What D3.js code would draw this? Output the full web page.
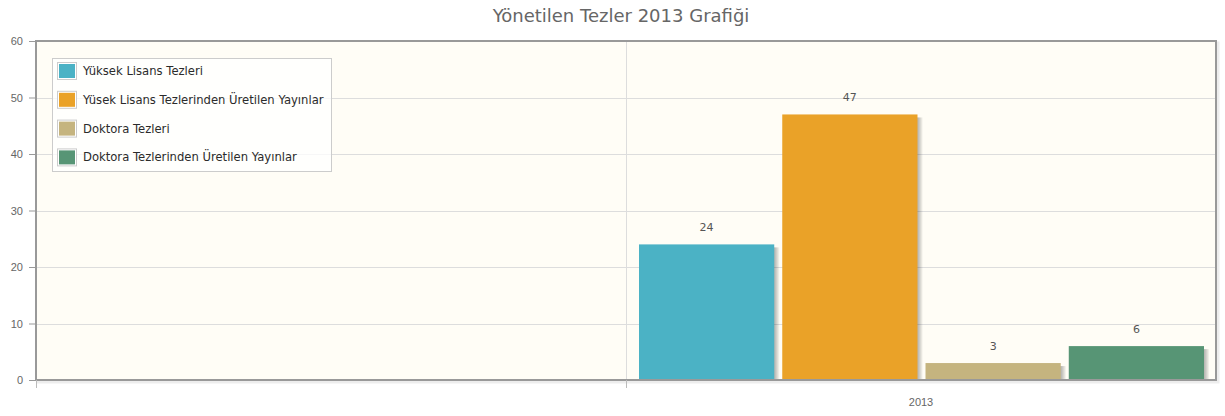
<!DOCTYPE html>
<html>
<head>
<meta charset="utf-8">
<script src="https://cdn.jsdelivr.net/npm/d3@7"></script>
<style>
  body { margin: 0; background: #fff; }
  svg { display: block; font-family: "DejaVu Sans", Verdana, sans-serif; }
  .tick text { fill: #666; font-size: 11px; }
  .tick line { stroke: #999; }
  .grid line { stroke: #ddd; stroke-width: 1; }
  .legend text { fill: #2b2b2b; font-size: 11.6px; }
  .value { fill: #555; font-size: 11px; }
  .title { fill: #666; font-size: 18px; }
</style>
</head>
<body>
<svg id="chart" width="1225" height="416"></svg>
<script>
// Yönetilen Tezler 2013
const xTicks = ["", "2013"];
const seriesNames = [
  "Yüksek Lisans Tezleri",
  "Yüsek Lisans Tezlerinden Üretilen Yayınlar",
  "Doktora Tezleri",
  "Doktora Tezlerinden Üretilen Yayınlar"
];
const values = [24, 47, 3, 6];
const yTicks = [0, 10, 20, 30, 40, 50, 60];
const colors = ["#4bb2c5", "#eaa228", "#c5b47f", "#579575"];

const svg = d3.select("#chart");

const plotLeft = 36, plotRight = 1216, plotTop = 41, plotBottom = 380;

const yScale = d3.scaleLinear().domain([0, 60]).range([plotBottom, plotTop]);
const xScale = d3.scaleBand().domain(xTicks).range([plotLeft, plotRight]);
const inner = d3
  .scaleBand()
  .domain(seriesNames)
  .range([13, xScale.bandwidth() - 12])
  .paddingInner(0.056);

// frame shadow
svg
  .append("rect")
  .attr("x", plotLeft + 2)
  .attr("y", plotTop + 2)
  .attr("width", plotRight - plotLeft)
  .attr("height", plotBottom - plotTop)
  .attr("fill", "none")
  .attr("stroke", "rgba(0,0,0,0.07)")
  .attr("stroke-width", 3);

svg
  .append("rect")
  .attr("x", plotLeft)
  .attr("y", plotTop)
  .attr("width", plotRight - plotLeft)
  .attr("height", plotBottom - plotTop)
  .attr("fill", "#fffdf6");

// grid
const grid = svg.append("g").attr("class", "grid");
grid
  .selectAll("line.h")
  .data(yTicks.slice(1, -1))
  .enter()
  .append("line")
  .attr("x1", plotLeft)
  .attr("x2", plotRight)
  .attr("y1", (d) => Math.round(yScale(d)) + 0.5)
  .attr("y2", (d) => Math.round(yScale(d)) + 0.5);

grid
  .selectAll("line.v")
  .data(xTicks.slice(1))
  .enter()
  .append("line")
  .attr("x1", (d) => Math.round(xScale(d)) + 0.5)
  .attr("x2", (d) => Math.round(xScale(d)) + 0.5)
  .attr("y1", plotTop)
  .attr("y2", plotBottom);

// bars
const barGroups = svg
  .selectAll()
  .data(values)
  .enter()
  .append("g")
  .attr("transform", `translate(${xScale("2013")}, 0)`);

[5, 4, 3, 2, 1].forEach((o) => {
  barGroups
    .append("rect")
    .attr("x", (d, i) => inner(seriesNames[i]) + o)
    .attr("y", (d) => yScale(d) + 3)
    .attr("width", inner.bandwidth())
    .attr("height", (d) => plotBottom - yScale(d) - 3)
    .attr("fill", "rgba(0,0,0,0.06)");
});

barGroups
  .append("rect")
  .attr("x", (d, i) => inner(seriesNames[i]))
  .attr("y", (d) => yScale(d))
  .attr("width", inner.bandwidth())
  .attr("height", (d) => plotBottom - yScale(d))
  .attr("fill", (d, i) => colors[i]);

barGroups
  .append("text")
  .attr("class", "value")
  .attr("x", (d, i) => inner(seriesNames[i]) + inner.bandwidth() / 2)
  .attr("y", (d) => yScale(d) - 13)
  .attr("text-anchor", "middle")
  .text((d) => d);

// border
svg
  .append("path")
  .attr("d", `M${plotLeft},${plotTop}H${plotRight}V${plotBottom}H${plotLeft}Z`)
  .attr("fill", "none")
  .attr("stroke", "#999")
  .attr("stroke-width", 2);

// axes
const yAxis = svg
  .append("g")
  .attr("transform", `translate(${plotLeft}, 0)`)
  .call(d3.axisLeft(yScale).tickValues(yTicks).tickSize(7).tickPadding(6));
yAxis.select(".domain").remove();

const xAxis = svg
  .append("g")
  .attr("transform", `translate(0, ${plotBottom})`)
  .call(d3.axisBottom(xScale).tickSize(0).tickPadding(18));
xAxis.select(".domain").remove();

svg
  .append("g")
  .selectAll("line")
  .data(xTicks)
  .enter()
  .append("line")
  .attr("x1", (d) => Math.round(xScale(d)) + 0.5)
  .attr("x2", (d) => Math.round(xScale(d)) + 0.5)
  .attr("y1", plotBottom)
  .attr("y2", plotBottom + 8)
  .attr("stroke", "#bbb");

// legend
const legend = svg
  .append("g")
  .attr("class", "legend")
  .attr("transform", "translate(52, 58)");

legend
  .append("rect")
  .attr("x", 0.5)
  .attr("y", 0.5)
  .attr("width", 279)
  .attr("height", 113)
  .attr("fill", "rgba(255,255,255,0.75)")
  .attr("stroke", "#ccc");

const items = legend
  .selectAll("g")
  .data(seriesNames)
  .enter()
  .append("g")
  .attr("transform", (d, i) => `translate(5, ${4 + i * 28.8})`);

items
  .append("rect")
  .attr("x", 0.5)
  .attr("y", 0.5)
  .attr("width", 19)
  .attr("height", 17)
  .attr("fill", "#fff")
  .attr("stroke", "#ccc");

items
  .append("rect")
  .attr("x", 2)
  .attr("y", 2)
  .attr("width", 16)
  .attr("height", 14)
  .attr("fill", (d, i) => colors[i]);

items
  .append("text")
  .attr("x", 26)
  .attr("y", 13)
  .text((d) => d);

svg
  .append("text")
  .attr("class", "title")
  .attr("x", (plotLeft + plotRight) / 2 - 5)
  .attr("y", 22)
  .attr("text-anchor", "middle")
  .text("Yönetilen Tezler 2013 Grafiği");
</script>
</body>
</html>
